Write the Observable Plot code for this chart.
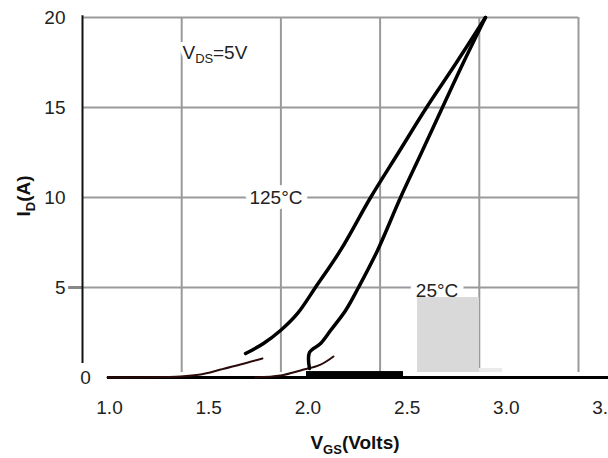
<!DOCTYPE html>
<html>
<head>
<meta charset="utf-8">
<script src="https://cdn.jsdelivr.net/npm/d3@7"></script>
<script src="https://cdn.jsdelivr.net/npm/@observablehq/plot@0.6"></script>
<style>
  html, body { margin: 0; padding: 0; background: #fff; overflow: hidden; }
  svg { overflow: hidden; }
</style>
</head>
<body>
<div id="chart"></div>
<script>
// ---- data ----
const xTicks = [1.0, 1.5, 2.0, 2.5, 3.0, 3.5];
const xTickLabels = ["1.0", "1.5", "2.0", "2.5", "3.0", "3.5"];
const yTicks = [0, 5, 10, 15, 20];
const yTickLabels = ["0", "5", "10", "15", "20"];

// 125°C transfer curve (low-current tail and main part)
const vgs125Low = [1.126, 1.494, 1.595, 1.696, 1.796, 1.907];
const id125Low  = [0, 0.06, 0.17, 0.44, 0.72, 1.06];
const vgs125 = [1.822, 1.912, 1.998, 2.084, 2.174, 2.300, 2.452, 2.593, 2.734, 2.885, 3.031];
const id125  = [1.33, 1.89, 2.61, 3.56, 5.0, 7.06, 10.0, 12.5, 15.0, 17.5, 20.0];

// 25°C transfer curve (low-current tail and main part)
const vgs25Low = [1.87, 1.998, 2.099, 2.200, 2.265];
const id25Low  = [0, 0.11, 0.39, 0.72, 1.17];
const vgs25 = [2.144, 2.144, 2.200, 2.250, 2.326, 2.391, 2.487, 2.603, 2.709, 2.814, 2.920, 3.031];
const id25  = [0.5, 1.39, 1.89, 2.61, 3.72, 5.0, 7.06, 10.0, 12.5, 15.0, 17.5, 20.0];

// curve labels
const curveLabels = ["125°C", "25°C"];
const curveLabelX = [1.975, 2.787];
const curveLabelY = [10.0, 4.83];

// condition annotation: V_DS = 5V
const condMain = "V";
const condSub = "DS";
const condRest = "=5V";
const condX = 1.504;
const condY = 18.06;

// shaded blocks visible in the picture
const blockX1 = [2.129, 2.689, 3.001];
const blockX2 = [2.618, 3.001, 3.117];
const blockY1 = [0, 0.28, 0.28];
const blockY2 = [0.33, 4.44, 0.5];
const blockFill = ["#000", "#d9d9d9", "#ebebeb"];

// ---- build tables ----
const zip = (xs, ys) => xs.map((x, i) => ({x, y: ys[i]}));
const blocks = blockX1.map((x1, i) => ({x1, x2: blockX2[i], y1: blockY1[i], y2: blockY2[i], fill: blockFill[i]}));
const labels = curveLabels.map((t, i) => ({t, x: curveLabelX[i], y: curveLabelY[i]}));
const xt = xTicks.map((v, i) => ({v, t: xTickLabels[i]}));
const yt = yTicks.map((v, i) => ({v, t: yTickLabels[i]}));
const cond = [{x: condX, y: condY}];

const FONT = "Liberation Sans, Arial, sans-serif";
const GRID = "#9a9a9a";
const TXT = "#222";

const plot = Plot.plot({
  width: 608,
  height: 458,
  marginLeft: 82,
  marginRight: 30,
  marginTop: 17,
  marginBottom: 81,
  style: {fontFamily: FONT, background: "#fff", overflow: "hidden"},
  x: {domain: [1.0, 3.5], axis: null},
  y: {domain: [0, 20], axis: null},
  marks: [
    // grid
    Plot.ruleY([5, 10, 15, 20], {x1: 1.0, x2: 3.5, stroke: GRID, strokeWidth: 2}),
    Plot.ruleX(xTicks.slice(1), {y1: 0.28, y2: 20, stroke: GRID, strokeWidth: 2}),
    Plot.ruleY([5], {x1: 0.93, x2: 1.0, stroke: "#888", strokeWidth: 3}),
    // curve labels (white halo breaks the grid)
    Plot.text(labels, {x: "x", y: "y", text: "t", fontSize: 19, fill: TXT,
      stroke: "#fff", strokeWidth: 12, fontFamily: FONT}),
    // V_DS=5V
    Plot.text(cond, {x: "x", y: "y", text: () => condMain, textAnchor: "start", fontSize: 19, fill: TXT,
      stroke: "#fff", strokeWidth: 8, fontFamily: FONT}),
    Plot.text(cond, {x: "x", y: "y", text: () => condSub, textAnchor: "start", dx: 12.7, dy: 6, fontSize: 13, fill: TXT, fontFamily: FONT}),
    Plot.text(cond, {x: "x", y: "y", text: () => condRest, textAnchor: "start", dx: 30.5, fontSize: 19, fill: TXT, fontFamily: FONT}),
    // blocks
    Plot.rect(blocks, {x1: "x1", x2: "x2", y1: "y1", y2: "y2", fill: d => d.fill}),
    // axes lines
    Plot.ruleX([1.0], {y1: 0.78, y2: 20.1, stroke: "#111", strokeWidth: 2}),
    Plot.ruleY([0], {x1: 1.126, x2: 3.7, stroke: "#000", strokeWidth: 3}),
    // curves
    Plot.line(zip(vgs125Low, id125Low), {x: "x", y: "y", stroke: "#2a0a0a", strokeWidth: 2, curve: "catmull-rom"}),
    Plot.line(zip(vgs25Low, id25Low), {x: "x", y: "y", stroke: "#2a0a0a", strokeWidth: 2, curve: "catmull-rom"}),
    Plot.line(zip(vgs125, id125), {x: "x", y: "y", stroke: "#000", strokeWidth: 3.5, curve: "catmull-rom"}),
    Plot.line(zip(vgs25, id25), {x: "x", y: "y", stroke: "#000", strokeWidth: 3.5, curve: "catmull-rom"}),
    // tick labels
    Plot.text(xt, {x: "v", y: 0, text: "t", dx: 27, dy: 30, fontSize: 19, fill: TXT, fontFamily: FONT}),
    Plot.text(yt.filter(d => d.v !== 0), {x: 1.0, y: "v", text: "t", dx: -17, textAnchor: "end", fontSize: 19, fill: TXT, fontFamily: FONT}),
    Plot.text(yt.filter(d => d.v === 0), {x: 1.0, y: "v", text: "t", dx: 3, fontSize: 19, fill: TXT, fontFamily: FONT})
  ]
});

document.getElementById("chart").appendChild(plot);

// ---- axis titles with subscripts ----
const svg = d3.select(plot);

const xTitle = svg.append("text")
  .attr("x", 355)
  .attr("y", 449)
  .attr("text-anchor", "middle")
  .attr("font-family", FONT)
  .attr("font-weight", "bold")
  .attr("font-size", 19)
  .attr("fill", "#111");
xTitle.append("tspan").text("V");
xTitle.append("tspan").attr("font-size", 13).attr("dy", 5).text("GS");
xTitle.append("tspan").attr("dy", -5).text("(Volts)");

const yTitle = svg.append("text")
  .attr("transform", "translate(30,196) rotate(-90)")
  .attr("text-anchor", "middle")
  .attr("font-family", FONT)
  .attr("font-weight", "bold")
  .attr("font-size", 19)
  .attr("fill", "#111");
yTitle.append("tspan").text("I");
yTitle.append("tspan").attr("font-size", 13).attr("dy", 5).text("D");
yTitle.append("tspan").attr("dy", -5).text("(A)");
</script>
</body>
</html>
